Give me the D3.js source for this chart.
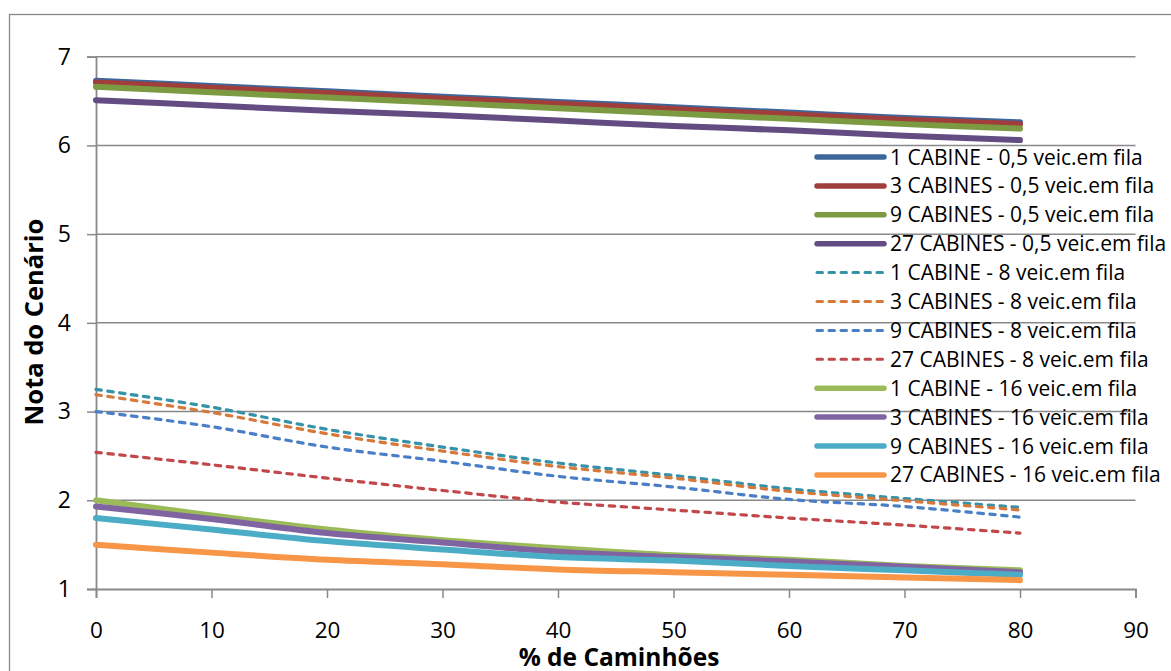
<!DOCTYPE html>
<html>
<head>
<meta charset="utf-8">
<script src="https://cdn.jsdelivr.net/npm/d3@7"></script>
<style>
  html, body { margin: 0; padding: 0; background: #ffffff; }
  svg { display: block; }
  text { font-family: "Open Sans", sans-serif; fill: #000; }
</style>
</head>
<body>
<svg id="chart" width="1171" height="671"></svg>
<script>
// % de caminhões (x positions of the samples)
const truckShare = [0, 10, 20, 30, 40, 50, 60, 70, 80];

// Scores for 0,5 vehicles in queue
const cab1_q05  = [6.73, 6.67, 6.61, 6.55, 6.49, 6.43, 6.37, 6.31, 6.26];
const cab3_q05  = [6.71, 6.65, 6.59, 6.53, 6.47, 6.41, 6.35, 6.29, 6.24];
const cab9_q05  = [6.66, 6.60, 6.54, 6.48, 6.42, 6.36, 6.30, 6.24, 6.19];
const cab27_q05 = [6.51, 6.45, 6.39, 6.34, 6.28, 6.22, 6.17, 6.11, 6.06];

// Scores for 8 vehicles in queue
const cab1_q8  = [3.25, 3.05, 2.80, 2.60, 2.42, 2.28, 2.13, 2.02, 1.92];
const cab3_q8  = [3.19, 2.99, 2.75, 2.555, 2.38, 2.25, 2.10, 1.995, 1.89];
const cab9_q8  = [3.00, 2.83, 2.60, 2.44, 2.27, 2.15, 2.01, 1.93, 1.81];
const cab27_q8 = [2.54, 2.40, 2.25, 2.11, 1.98, 1.89, 1.80, 1.72, 1.63];

// Scores for 16 vehicles in queue
const cab1_q16  = [2.00, 1.83, 1.67, 1.55, 1.46, 1.38, 1.33, 1.26, 1.21];
const cab3_q16  = [1.93, 1.79, 1.63, 1.525, 1.42, 1.36, 1.31, 1.25, 1.19];
const cab9_q16  = [1.80, 1.67, 1.54, 1.445, 1.36, 1.32, 1.26, 1.21, 1.16];
const cab27_q16 = [1.50, 1.41, 1.33, 1.28, 1.22, 1.19, 1.16, 1.13, 1.10];

const seriesNames = [
  "1 CABINE - 0,5 veic.em fila",
  "3 CABINES - 0,5 veic.em fila",
  "9 CABINES - 0,5 veic.em fila",
  "27 CABINES - 0,5 veic.em fila",
  "1 CABINE - 8 veic.em fila",
  "3 CABINES - 8 veic.em fila",
  "9 CABINES - 8 veic.em fila",
  "27 CABINES - 8 veic.em fila",
  "1 CABINE - 16 veic.em fila",
  "3 CABINES - 16 veic.em fila",
  "9 CABINES - 16 veic.em fila",
  "27 CABINES - 16 veic.em fila"
];
const seriesValues = [
  cab1_q05, cab3_q05, cab9_q05, cab27_q05,
  cab1_q8, cab3_q8, cab9_q8, cab27_q8,
  cab1_q16, cab3_q16, cab9_q16, cab27_q16
];
const seriesColors = [
  "#3D679C", "#A03E3B", "#7B9A42", "#634C82",
  "#3592A8", "#D7793A", "#4A7EC6", "#C2474A",
  "#9BBB59", "#8064A2", "#4BACC6", "#F79646"
];
const seriesDashed = [false, false, false, false, true, true, true, true, false, false, false, false];

const xTicks = [0, 10, 20, 30, 40, 50, 60, 70, 80, 90];
const yTicks = [1, 2, 3, 4, 5, 6, 7];

const svg = d3.select("#chart");
const axisColor = "#898989";

// outer chart frame
svg.append("rect")
  .attr("x", 9.5).attr("y", 14.5)
  .attr("width", 1300).attr("height", 800)
  .attr("fill", "#fff")
  .attr("stroke", axisColor).attr("stroke-width", 1.3);

const x = d3.scaleLinear().domain([0, 90]).range([96, 1135.5]);
const y = d3.scaleLinear().domain([1, 7]).range([589, 56.7]);

// horizontal gridlines
svg.append("g")
  .selectAll("line")
  .data(yTicks.filter(v => v !== 1))
  .join("line")
  .attr("x1", x(0)).attr("x2", x(90))
  .attr("y1", d => y(d)).attr("y2", d => y(d))
  .attr("stroke", axisColor).attr("stroke-width", 1.5);

// y axis
const yAxis = svg.append("g")
  .attr("transform", `translate(${x(0)},0)`)
  .call(d3.axisLeft(y).tickValues(yTicks).tickSize(9).tickPadding(16).tickFormat(d3.format("d")));
yAxis.select(".domain").attr("stroke", axisColor).attr("stroke-width", 1.8);
yAxis.selectAll(".tick line").attr("stroke", axisColor).attr("stroke-width", 1.5);
yAxis.selectAll(".tick text")
  .attr("font-family", "'Open Sans', sans-serif")
  .attr("font-size", 23).attr("fill", "#000");

// x axis
const xAxis = svg.append("g")
  .attr("transform", `translate(0,${y(1)})`)
  .call(d3.axisBottom(x).tickValues(xTicks).tickSize(9).tickPadding(24).tickFormat(d3.format("d")));
xAxis.select(".domain").attr("stroke", axisColor).attr("stroke-width", 1.8);
xAxis.selectAll(".tick line").attr("stroke", axisColor).attr("stroke-width", 1.5);
xAxis.selectAll(".tick text")
  .attr("font-family", "'Open Sans', sans-serif")
  .attr("font-size", 22.5).attr("fill", "#000");

// axis titles
svg.append("text")
  .attr("x", 619).attr("y", 666)
  .attr("text-anchor", "middle")
  .attr("font-size", 24.5).attr("font-weight", "bold")
  .text("% de Caminhões");

svg.append("text")
  .attr("transform", "translate(43,322) rotate(-90)")
  .attr("text-anchor", "middle")
  .attr("font-size", 25.5).attr("font-weight", "bold")
  .text("Nota do Cenário");

// series lines
const line = d3.line()
  .x(d => x(d[0]))
  .y(d => y(d[1]))
  .curve(d3.curveCatmullRom.alpha(0.5));

const lines = svg.append("g");
seriesValues.forEach((vals, i) => {
  const pts = truckShare.map((t, k) => [t, vals[k]]);
  lines.append("path")
    .datum(pts)
    .attr("d", line)
    .attr("fill", "none")
    .attr("stroke", seriesColors[i])
    .attr("stroke-width", seriesDashed[i] ? 3.2 : 6)
    .attr("stroke-linecap", "round")
    .attr("stroke-dasharray", seriesDashed[i] ? "5.5,6.5" : null);
});

// legend
const legend = svg.append("g");
seriesNames.forEach((name, i) => {
  const ly = 157 + i * 28.9;
  legend.append("line")
    .attr("x1", 817).attr("x2", 884)
    .attr("y1", ly).attr("y2", ly)
    .attr("stroke", seriesColors[i])
    .attr("stroke-width", seriesDashed[i] ? 3 : 5.5)
    .attr("stroke-linecap", "round")
    .attr("stroke-dasharray", seriesDashed[i] ? "5.5,6.5" : null);
  legend.append("text")
    .attr("x", 890).attr("y", ly)
    .attr("dy", "0.36em")
    .attr("font-size", 21)
    .text(name);
});
</script>
</body>
</html>
